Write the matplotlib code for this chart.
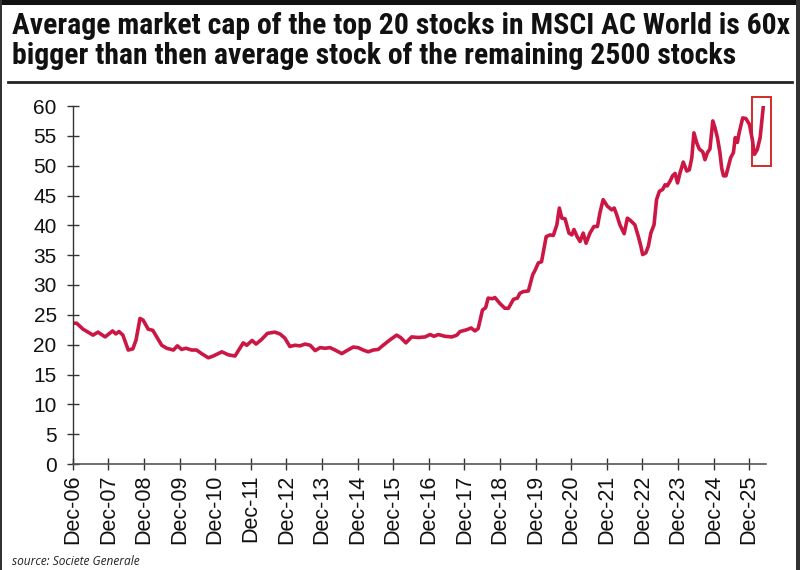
### top 20 vs rest of MSCI ACWI chart
# ratio of average market cap

import matplotlib
matplotlib.use('Agg')
import matplotlib.pyplot as plt
from matplotlib import font_manager
from matplotlib.lines import Line2D
from matplotlib.patches import Rectangle

# years since Dec-06 (x position) and ratio (y)
t_years = [
    0.02, 0.11, 0.29, 0.57, 0.71, 0.91, 1.12, 1.21, 1.30, 1.41, 1.56, 1.69,
    1.78, 1.89, 1.98, 2.12, 2.25, 2.36, 2.50, 2.64, 2.83, 2.94, 3.06, 3.18,
    3.34, 3.48, 3.62, 3.81, 3.95, 4.19, 4.37, 4.56, 4.79, 4.89, 5.04, 5.15,
    5.31, 5.47, 5.68, 5.82, 5.96, 6.10, 6.24, 6.38, 6.53, 6.67, 6.81, 6.95,
    7.09, 7.23, 7.37, 7.56, 7.70, 7.88, 8.02, 8.16, 8.30, 8.44, 8.58, 8.72,
    8.91, 9.10, 9.21, 9.36, 9.52, 9.71, 9.90, 10.04, 10.15, 10.27, 10.46,
    10.65, 10.79, 10.88, 11.07, 11.19, 11.30, 11.39, 11.51, 11.60, 11.67,
    11.79, 11.86, 12.00, 12.14, 12.24, 12.38, 12.49, 12.56, 12.66, 12.80,
    12.92, 12.99, 13.08, 13.17, 13.30, 13.41, 13.50, 13.60, 13.67, 13.74,
    13.83, 13.94, 14.02, 14.08, 14.17, 14.25, 14.34, 14.42, 14.53, 14.64,
    14.74, 14.81, 14.90, 15.02, 15.14, 15.21, 15.28, 15.37, 15.49, 15.58,
    15.65, 15.79, 15.89, 15.96, 16.01, 16.10, 16.17, 16.24, 16.33, 16.40,
    16.48, 16.57, 16.64, 16.70, 16.78, 16.85, 16.92, 16.99, 17.06, 17.15,
    17.25, 17.32, 17.39, 17.45, 17.53, 17.60, 17.70, 17.76, 17.83, 17.90,
    17.98, 18.04, 18.11, 18.18, 18.23, 18.28, 18.35, 18.42, 18.48, 18.56,
    18.61, 18.67, 18.72, 18.82, 18.91, 19.01, 19.09, 19.15, 19.23, 19.31,
    19.40,
]
ratio = [
    23.6, 23.6, 22.6, 21.6, 22.1, 21.3, 22.3, 21.8, 22.2, 21.6, 19.1, 19.3,
    20.8, 24.4, 24.1, 22.6, 22.4, 21.3, 19.9, 19.4, 19.1, 19.8, 19.2, 19.4,
    19.1, 19.1, 18.5, 17.8, 18.1, 18.8, 18.3, 18.1, 20.3, 19.9, 20.7, 20.1,
    20.9, 21.9, 22.1, 21.8, 21.1, 19.7, 19.9, 19.8, 20.1, 19.9, 19.0, 19.5,
    19.4, 19.5, 19.1, 18.5, 19.0, 19.6, 19.5, 19.1, 18.8, 19.1, 19.2, 19.9,
    20.8, 21.6, 21.2, 20.3, 21.3, 21.2, 21.3, 21.7, 21.4, 21.7, 21.4, 21.3,
    21.6, 22.2, 22.5, 22.8, 22.3, 22.7, 25.8, 26.2, 27.8, 27.7, 27.9, 26.9,
    26.1, 26.1, 27.6, 27.8, 28.6, 28.9, 29.0, 31.7, 32.5, 33.7, 33.9, 38.1,
    38.4, 38.3, 40.1, 42.9, 41.2, 41.1, 38.7, 38.4, 39.3, 38.1, 37.3, 38.7,
    37.0, 38.7, 39.8, 39.8, 42.1, 44.3, 43.2, 42.6, 42.9, 41.8, 40.1, 38.6,
    41.2, 40.9, 40.1, 38.1, 36.5, 35.1, 35.4, 36.5, 38.7, 40.1, 44.3, 45.7,
    46.0, 46.8, 46.6, 47.4, 48.3, 48.7, 47.1, 48.8, 50.6, 49.1, 49.3, 51.3,
    55.5, 53.8, 52.8, 52.3, 51.0, 52.2, 52.8, 57.5, 56.4, 54.7, 52.2, 49.6,
    48.3, 48.3, 49.9, 51.3, 52.2, 54.7, 53.9, 55.5, 58.0, 57.9, 56.9, 54.4,
    51.9, 52.7, 54.7, 60.0,
]
tick_labels = [
    'Dec-06', 'Dec-07', 'Dec-08', 'Dec-09', 'Dec-10', 'Dec-11', 'Dec-12',
    'Dec-13', 'Dec-14', 'Dec-15', 'Dec-16', 'Dec-17', 'Dec-18', 'Dec-19',
    'Dec-20', 'Dec-21', 'Dec-22', 'Dec-23', 'Dec-24', 'Dec-25',
]
y_ticks = [0, 5, 10, 15, 20, 25, 30, 35, 40, 45, 50, 55, 60]

# highlighted latest move
box_t = (19.09, 19.61)
box_v = (49.9, 61.5)

title_lines = [
    'Average market cap of the top 20 stocks in MSCI AC World is 60x',
    'bigger than then average stock of the remaining 2500 stocks',
]
source = 'source: Societe Generale'

# pick a narrow bold face for the title if one is installed
names = {f.name for f in font_manager.fontManager.ttflist}
title_family = 'Noto Sans'
for cand in ['Liberation Sans Narrow', 'Roboto Condensed', 'Open Sans Condensed',
             'Noto Sans Condensed', 'Arial Narrow']:
    if cand in names:
        title_family = cand
        break

W, H = 800, 570
fig = plt.figure(figsize=(8, 5.7), dpi=100)
fig.patch.set_facecolor('white')

# plot area in pixels: x axis at y=464, top (60) at y=106
x0, x1, y0, y1 = 72.7, 766, 464, 106
ax = fig.add_axes([x0 / W, 1 - y0 / H, (x1 - x0) / W, (y0 - y1) / H])
ax.plot(t_years, ratio, color='#cc1744', lw=2.6, solid_joinstyle='round',
        solid_capstyle='round')

ax.set_xlim(0, (x1 - x0) / 35.6)
ax.set_ylim(0, 60)
ax.set_yticks(y_ticks)
ax.set_xticks(range(len(tick_labels)))
ax.set_xticklabels(tick_labels, rotation=90)

for s in ['top', 'right']:
    ax.spines[s].set_visible(False)
ax.spines['left'].set_color('#333333')
ax.spines['bottom'].set_color('#555555')
ax.spines['left'].set_linewidth(1.0)
ax.spines['bottom'].set_linewidth(1.2)

ax.tick_params(axis='both', direction='inout', length=9, width=1.0,
               colors='#333333', labelcolor='#111111')
ax.tick_params(axis='y', labelsize=15, pad=7)
ax.tick_params(axis='x', labelsize=15.5, pad=3)
for lab in ax.get_xticklabels() + ax.get_yticklabels():
    lab.set_family('Liberation Sans')

ax.add_patch(Rectangle((box_t[0], box_v[0]), box_t[1] - box_t[0],
                       box_v[1] - box_v[0], fill=False, ec='#d42a2a',
                       lw=1.4, clip_on=False))

# title, fitted to the width of the image
t1 = fig.text(12 / W, 1 - 34 / H, title_lines[0], fontsize=20,
              fontweight='bold', family=title_family, fontstretch='condensed',
              va='baseline', ha='left', color='#111111')
t2 = fig.text(12 / W, 1 - 64 / H, title_lines[1], fontsize=20,
              fontweight='bold', family=title_family, fontstretch='condensed',
              va='baseline', ha='left', color='#111111')
fig.canvas.draw()
bb = t1.get_window_extent(fig.canvas.get_renderer())
fs = 20 * 776 / bb.width
t1.set_fontsize(fs)
t2.set_fontsize(fs)

fig.add_artist(Line2D([8 / W, 792 / W], [1 - 82 / H, 1 - 82 / H],
                      color='#222222', lw=2.0))

fig.text(12 / W, 1 - 565 / H, source, fontsize=8.6, style='italic',
         family='Open Sans', color='#222222', va='baseline')

# dark frame of the screenshot
fig.add_artist(Rectangle((0, 1 - 5 / H), 1, 5 / H, transform=fig.transFigure,
                         color='#111111', lw=0))
fig.add_artist(Rectangle((0, 0), 2 / W, 1, transform=fig.transFigure,
                         color='#333333', lw=0))
fig.add_artist(Rectangle((1 - 4 / W, 0), 4 / W, 1, transform=fig.transFigure,
                         color='#333333', lw=0))

fig.savefig('out.png', dpi=100)
